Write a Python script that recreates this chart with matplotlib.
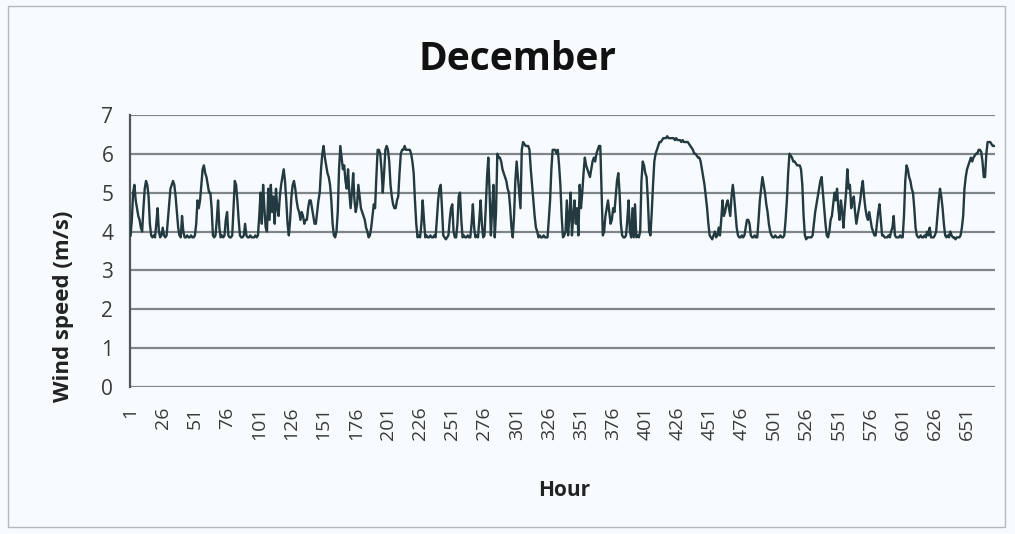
import matplotlib
matplotlib.use('Agg')
import matplotlib.pyplot as plt
import numpy as np

# hourly wind speed (m/s), one row per day
day01 = [3.9, 4.3, 5.0, 5.2, 4.8, 4.6, 4.4, 4.3, 4.1, 4.0, 4.6, 5.1, 5.3, 5.2, 4.9, 4.2, 3.9, 3.85, 3.9, 3.85, 4.2, 4.6, 4.0, 3.85]
day02 = [3.9, 4.1, 3.9, 3.85, 3.9, 4.3, 4.7, 5.1, 5.2, 5.3, 5.2, 4.9, 4.5, 4.1, 3.9, 3.85, 4.4, 4.0, 3.85, 3.85, 3.9, 3.85, 3.85, 3.9]
day03 = [3.85, 3.85, 3.9, 4.2, 4.8, 4.6, 4.8, 5.2, 5.6, 5.7, 5.5, 5.4, 5.2, 5.0, 5.0, 4.6, 3.9, 3.85, 3.9, 4.3, 4.8, 4.1, 3.85, 3.9]
day04 = [3.85, 3.9, 4.3, 4.5, 3.9, 3.85, 3.85, 3.9, 4.6, 5.3, 5.2, 4.8, 4.3, 3.9, 3.85, 3.85, 3.9, 4.2, 3.9, 3.85, 3.85, 3.9, 3.85, 3.85]
day05 = [3.85, 3.9, 3.85, 3.9, 4.4, 5.0, 4.2, 5.2, 4.6, 4.1, 4.0, 5.1, 4.3, 5.2, 4.5, 4.9, 4.2, 5.1, 4.6, 4.4, 4.9, 5.2, 5.4, 5.6]
day06 = [5.3, 4.8, 4.2, 3.9, 4.3, 4.9, 5.2, 5.3, 5.1, 4.8, 4.6, 4.5, 4.3, 4.5, 4.4, 4.2, 4.3, 4.3, 4.6, 4.8, 4.8, 4.6, 4.4, 4.2]
day07 = [4.2, 4.5, 4.8, 5.0, 5.6, 6.0, 6.2, 5.9, 5.7, 5.5, 5.4, 5.2, 4.8, 4.2, 3.9, 3.85, 4.0, 4.5, 5.6, 6.2, 5.9, 5.6, 5.7, 5.3]
day08 = [5.1, 5.6, 5.0, 4.6, 5.0, 5.5, 4.8, 4.5, 4.7, 5.2, 4.9, 4.6, 4.5, 4.4, 4.3, 4.1, 4.0, 3.85, 3.9, 4.1, 4.4, 4.7, 4.6, 5.4]
day09 = [6.1, 6.1, 6.0, 5.6, 5.0, 5.5, 6.1, 6.2, 6.1, 5.8, 5.2, 4.9, 4.7, 4.6, 4.6, 4.8, 4.9, 5.5, 6.0, 6.1, 6.1, 6.2, 6.1, 6.1]
day10 = [6.1, 6.1, 6.0, 5.8, 5.5, 4.8, 4.2, 3.85, 3.9, 3.85, 4.2, 4.8, 4.3, 3.85, 3.9, 3.85, 3.85, 3.9, 3.85, 3.85, 3.9, 3.85, 4.3, 4.8]
day11 = [5.1, 5.2, 4.6, 3.9, 3.85, 3.8, 3.85, 3.9, 4.3, 4.6, 4.7, 4.0, 3.85, 3.85, 4.2, 4.9, 5.0, 4.3, 3.85, 3.9, 3.85, 3.85, 3.9, 3.85]
day12 = [3.85, 4.2, 4.7, 4.1, 3.85, 3.9, 3.85, 4.3, 4.8, 4.2, 3.85, 3.9, 4.6, 5.4, 5.9, 5.0, 3.9, 4.6, 5.2, 3.85, 4.5, 6.0, 5.9, 5.9]
day13 = [5.8, 5.6, 5.5, 5.4, 5.3, 5.1, 5.0, 4.6, 4.1, 3.85, 4.4, 5.3, 5.8, 5.4, 5.0, 4.6, 6.1, 6.3, 6.25, 6.2, 6.2, 6.2, 6.1, 5.6]
day14 = [5.2, 4.8, 4.4, 4.1, 4.0, 3.85, 3.9, 3.85, 3.85, 3.9, 3.85, 3.85, 3.85, 4.3, 4.8, 5.6, 6.1, 6.1, 6.1, 6.0, 6.1, 5.7, 5.2, 4.4]
day15 = [3.85, 3.9, 4.0, 4.8, 3.9, 4.4, 5.0, 3.9, 4.4, 4.8, 4.2, 4.6, 3.9, 5.2, 4.6, 5.0, 5.5, 5.9, 5.7, 5.6, 5.5, 5.4, 5.6, 5.8]
day16 = [5.9, 5.8, 6.0, 6.1, 6.2, 6.2, 5.0, 3.9, 4.0, 4.4, 4.6, 4.8, 4.5, 4.2, 4.3, 4.6, 4.5, 4.9, 5.3, 5.5, 5.0, 4.2, 3.9, 3.85]
day17 = [3.85, 3.9, 4.3, 4.8, 4.0, 3.85, 4.6, 3.85, 4.7, 3.85, 3.9, 3.85, 4.0, 5.3, 5.8, 5.7, 5.5, 5.4, 4.8, 4.0, 3.9, 4.5, 5.2, 5.8]
day18 = [6.0, 6.1, 6.2, 6.3, 6.3, 6.35, 6.4, 6.4, 6.4, 6.45, 6.4, 6.4, 6.4, 6.4, 6.4, 6.35, 6.4, 6.35, 6.35, 6.35, 6.3, 6.35, 6.3, 6.3]
day19 = [6.3, 6.3, 6.25, 6.2, 6.15, 6.1, 6.0, 6.0, 5.95, 5.9, 5.9, 5.8, 5.6, 5.4, 5.2, 4.9, 4.6, 4.2, 3.9, 3.85, 3.8, 3.9, 4.0, 3.85]
day20 = [3.9, 4.1, 3.9, 4.3, 4.8, 4.4, 4.5, 4.7, 4.8, 4.6, 4.4, 4.9, 5.2, 4.9, 4.5, 4.1, 3.9, 3.85, 3.85, 3.9, 3.85, 3.9, 4.1, 4.3]
day21 = [4.3, 4.2, 3.9, 3.85, 3.85, 3.9, 3.85, 3.85, 4.3, 4.8, 5.1, 5.4, 5.2, 5.0, 4.7, 4.5, 4.2, 4.0, 3.9, 3.85, 3.85, 3.9, 3.85, 3.85]
day22 = [3.85, 3.9, 3.85, 3.85, 3.9, 4.3, 4.8, 5.5, 6.0, 5.95, 5.9, 5.8, 5.8, 5.75, 5.7, 5.7, 5.7, 5.6, 5.2, 4.4, 3.9, 3.8, 3.85, 3.85]
day23 = [3.85, 3.85, 3.9, 4.2, 4.5, 4.7, 4.9, 5.1, 5.3, 5.4, 5.0, 4.6, 4.2, 3.9, 3.85, 4.0, 4.3, 4.4, 4.7, 5.0, 4.8, 5.1, 4.6, 4.3]
day24 = [4.8, 4.5, 4.1, 4.6, 5.0, 5.6, 5.1, 5.2, 4.6, 4.8, 4.9, 4.5, 4.2, 4.4, 4.6, 4.8, 5.1, 5.3, 4.9, 4.6, 4.4, 4.3, 4.5, 4.3]
day25 = [4.1, 4.0, 3.9, 3.9, 4.2, 4.5, 4.7, 4.3, 3.9, 3.9, 3.85, 3.85, 3.85, 3.9, 3.85, 4.0, 4.1, 4.4, 3.9, 3.85, 3.85, 3.85, 3.9, 3.85]
day26 = [3.85, 4.4, 5.3, 5.7, 5.6, 5.4, 5.3, 5.1, 5.0, 4.6, 4.1, 3.9, 3.85, 3.85, 3.9, 3.85, 3.85, 3.9, 3.85, 4.0, 3.9, 4.1, 3.85, 3.85]
day27 = [3.85, 3.9, 4.0, 4.4, 4.8, 5.1, 4.9, 4.6, 4.2, 3.9, 3.85, 3.9, 3.85, 4.0, 3.9, 3.85, 3.85, 3.8, 3.85, 3.85, 3.85, 3.9, 4.1, 4.4]
day28 = [5.1, 5.4, 5.6, 5.7, 5.8, 5.9, 5.8, 5.9, 5.95, 6.0, 6.0, 6.1, 6.1, 6.05, 5.8, 5.4, 5.4, 6.0, 6.3, 6.3, 6.3, 6.25, 6.2, 6.2]

days = [day01, day02, day03, day04, day05, day06, day07, day08, day09, day10,
        day11, day12, day13, day14, day15, day16, day17, day18, day19, day20,
        day21, day22, day23, day24, day25, day26, day27, day28]
speed = np.concatenate(days)
hours = np.arange(1, len(speed) + 1)
tick_hours = list(range(1, 652, 25))

plt.rcParams['font.family'] = ['Open Sans', 'DejaVu Sans']

bg = '#f8fbfd'
fig = plt.figure(figsize=(10.15, 5.34), dpi=100)
fig.patch.set_facecolor(bg)
fig.add_artist(plt.Rectangle((0.008, 0.013), 0.982, 0.975, transform=fig.transFigure,
                             fill=False, edgecolor='#b4b9bc', linewidth=1.0))

ax = fig.add_axes([0.128, 0.275, 0.852, 0.510])
ax.set_facecolor(bg)

for yv in range(0, 8):
    ax.axhline(yv, color='#7f8688', linewidth=1.6, zorder=1)

ax.plot(hours, speed, color='#223a40', linewidth=1.7, zorder=3)

ax.set_xlim(0.5, len(speed) + 0.5)
ax.set_ylim(0, 7)
ax.set_yticks(range(0, 8))
ax.set_xticks(tick_hours)
ax.set_xticklabels([str(t) for t in tick_hours], rotation=90, fontsize=14, color='#3a3a3a')
ax.tick_params(axis='y', labelsize=15, colors='#3a3a3a', length=0, pad=12)
ax.tick_params(axis='x', length=0, pad=14)

for s in ['top', 'right', 'bottom']:
    ax.spines[s].set_visible(False)
ax.spines['left'].set_color('#4f5759')
ax.spines['left'].set_linewidth(1.6)

fig.text(0.51, 1 - 70 / 534, 'December', fontsize=28, fontweight='bold',
         ha='center', va='baseline', color='#111111')
fig.text(63 / 1015, 1 - 306 / 534, 'Wind speed (m/s)', fontsize=16, fontweight='bold',
         rotation=90, ha='center', va='center', color='#222222')
fig.text(564 / 1015, 1 - 490 / 534, 'Hour', fontsize=15, fontweight='bold',
         ha='center', va='center', color='#222222')

fig.savefig('out.png', dpi=100, facecolor=bg)
